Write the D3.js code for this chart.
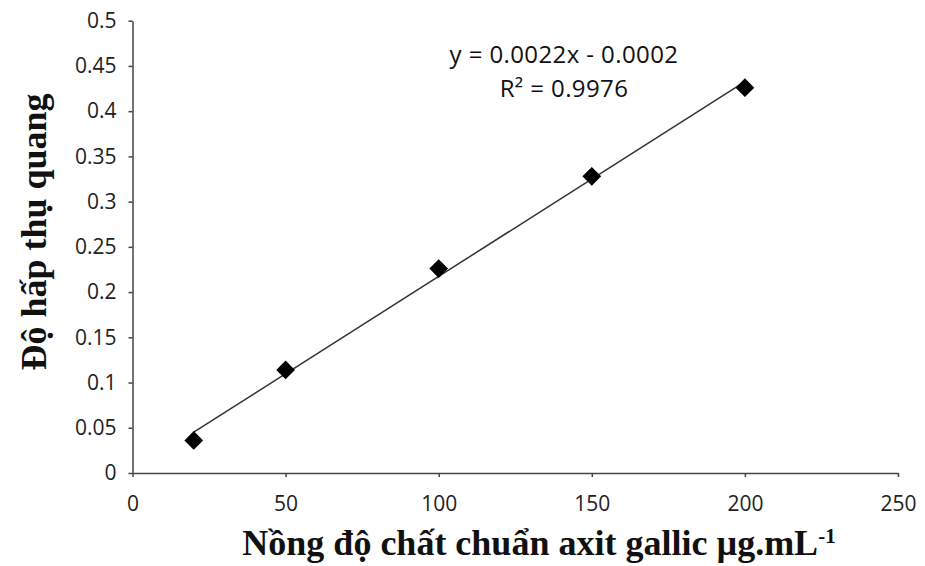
<!DOCTYPE html>
<html>
  <head>
    <title>Gallic acid standard curve</title>
    <style type="text/css">
        body{
            margin: 0;
            background: #fff;
        }
        .axis path, .axis line{
            stroke: #444;
            stroke-width: 1.5px;
        }
        .axis text{
            font-family: "Open Sans", sans-serif;
            font-size: 21px;
            fill: #222;
        }
        .title{
            font-family: "Liberation Serif", "Times New Roman", serif;
            font-weight: bold;
            font-size: 36px;
            fill: #111;
        }
        .eq{
            font-family: "Open Sans", sans-serif;
            font-size: 24px;
            letter-spacing: 0.4px;
            fill: #111;
        }
    </style>
  </head>
  <body>
    <div id="chart"></div>

    <script src="https://cdn.jsdelivr.net/npm/d3@7"></script>
    <script>
        var concentrations = [20, 50, 100, 150, 200];
        var absorbances = [0.036, 0.114, 0.226, 0.328, 0.426];

        //  Axis ticks
        var xTicks = [0, 50, 100, 150, 200, 250];
        var yTicks = [0, 0.05, 0.1, 0.15, 0.2, 0.25, 0.3, 0.35, 0.4, 0.45, 0.5];

        //  Texts
        var equationLines = ["y = 0.0022x - 0.0002", "R\u00B2 = 0.9976"];
        var xTitle = "N\u1ed3ng \u0111\u1ed9 ch\u1ea5t chu\u1ea9n axit gallic \u00b5g.mL";
        var xTitleSup = "-1";
        var yTitle = "\u0110\u1ed9 h\u1ea5p th\u1ee5 quang";

        var width = 925, height = 566;

        var svg = d3.select("#chart").append("svg")
            .attr("width", width)
            .attr("height", height);

        var x = d3.scaleLinear().domain([0, 250]).range([132.5, 898]);
        var y = d3.scaleLinear().domain([0, 0.5]).range([473, 20.7]);

        //  Axes
        svg.append("g")
            .attr("class", "axis")
            .attr("transform", "translate(0," + y(0) + ")")
            .call(d3.axisBottom(x).tickValues(xTicks).tickSize(4).tickSizeOuter(0).tickPadding(19).tickFormat(d => d));

        svg.append("g")
            .attr("class", "axis")
            .attr("transform", "translate(" + x(0) + ",0)")
            .call(d3.axisLeft(y).tickValues(yTicks).tickSize(4).tickSizeOuter(0).tickPadding(12).tickFormat(d => d));

        //  Linear fit through the points (least squares)
        var data = concentrations.map((c, i) => ({x: c, y: absorbances[i]}));
        var mx = d3.mean(concentrations), my = d3.mean(absorbances);
        var sxy = d3.sum(data, d => (d.x - mx) * (d.y - my));
        var sxx = d3.sum(data, d => (d.x - mx) * (d.x - mx));
        var slope = sxy / sxx, intercept = my - slope * mx;
        var xmin = d3.min(concentrations), xmax = d3.max(concentrations);

        svg.append("line")
            .attr("x1", x(xmin)).attr("y1", y(slope * xmin + intercept))
            .attr("x2", x(xmax)).attr("y2", y(slope * xmax + intercept))
            .attr("stroke", "#333")
            .attr("stroke-width", 1.5);

        //  Diamond markers
        svg.append("g").selectAll("path")
            .data(data)
            .enter().append("path")
                .attr("d", d3.symbol().type(d3.symbolSquare).size(175))
                .attr("transform", d => "translate(" + x(d.x) + "," + y(d.y) + ") rotate(45)")
                .attr("fill", "#000");

        //  Trendline equation
        svg.append("g").selectAll("text")
            .data(equationLines)
            .enter().append("text")
                .attr("class", "eq")
                .attr("x", 564)
                .attr("y", (d, i) => 63 + i * 34)
                .attr("text-anchor", "middle")
                .text(d => d);

        //  Axis titles
        var xt = svg.append("text")
            .attr("class", "title")
            .attr("x", 539)
            .attr("y", 555)
            .attr("text-anchor", "middle");
        xt.append("tspan").text(xTitle);
        xt.append("tspan")
            .attr("dy", -12)
            .attr("font-size", "21px")
            .text(xTitleSup);

        svg.append("text")
            .attr("class", "title")
            .attr("transform", "translate(46,232) rotate(-90)")
            .attr("text-anchor", "middle")
            .text(yTitle);
    </script>
  </body>
</html>
